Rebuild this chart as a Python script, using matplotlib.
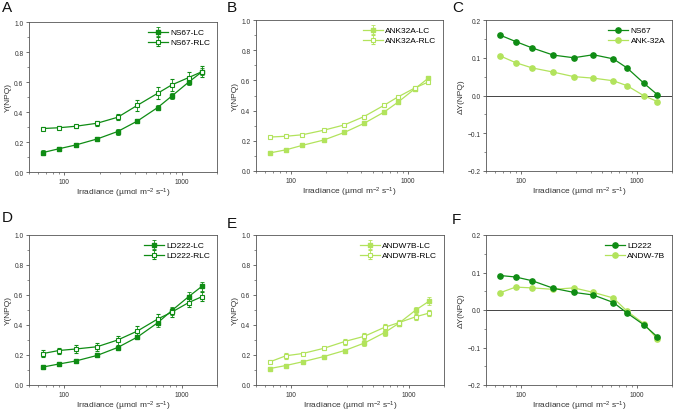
import matplotlib
matplotlib.use("Agg")
import matplotlib.pyplot as plt
import matplotlib.ticker as mtick
import numpy as np

DARK = "#0f8c14"
LIGHT = "#b2e35c"
INK = "#333333"

irradiance = [66, 90, 125, 190, 285, 420, 625, 820, 1150, 1500]

ns67_lc = [0.13, 0.155, 0.18, 0.22, 0.27, 0.34, 0.43, 0.505, 0.60, 0.67]
ns67_lc_err = [0.015, 0.015, 0.015, 0.015, 0.02, 0.015, 0.015, 0.02, 0.02, 0.025]
ns67_rlc = [0.29, 0.295, 0.305, 0.325, 0.365, 0.445, 0.525, 0.58, 0.63, 0.67]
ns67_rlc_err = [0.01, 0.01, 0.01, 0.015, 0.02, 0.035, 0.04, 0.04, 0.04, 0.035]

ank_lc = [0.12, 0.14, 0.17, 0.205, 0.255, 0.315, 0.39, 0.455, 0.545, 0.615]
ank_lc_err = [0.008, 0.008, 0.008, 0.008, 0.008, 0.01, 0.01, 0.01, 0.01, 0.012]
ank_rlc = [0.225, 0.23, 0.24, 0.27, 0.305, 0.36, 0.435, 0.49, 0.55, 0.59]
ank_rlc_err = [0.008, 0.008, 0.008, 0.008, 0.008, 0.01, 0.01, 0.01, 0.01, 0.012]

d_ns67 = [0.16, 0.143, 0.126, 0.107, 0.10, 0.108, 0.097, 0.073, 0.032, 0.002]
d_ank = [0.105, 0.087, 0.073, 0.062, 0.05, 0.046, 0.039, 0.026, -0.001, -0.016]

ld_lc = [0.12, 0.14, 0.16, 0.197, 0.25, 0.32, 0.415, 0.495, 0.59, 0.66]
ld_lc_err = [0.01, 0.01, 0.01, 0.01, 0.01, 0.015, 0.025, 0.025, 0.03, 0.03]
ld_rlc = [0.21, 0.23, 0.24, 0.255, 0.30, 0.36, 0.44, 0.485, 0.55, 0.59]
ld_rlc_err = [0.025, 0.02, 0.025, 0.025, 0.03, 0.035, 0.035, 0.03, 0.03, 0.03]

andw_lc = [0.11, 0.13, 0.155, 0.19, 0.23, 0.28, 0.35, 0.41, 0.50, 0.56]
andw_lc_err = [0.01, 0.01, 0.01, 0.01, 0.01, 0.02, 0.02, 0.015, 0.02, 0.025]
andw_rlc = [0.155, 0.195, 0.21, 0.245, 0.29, 0.325, 0.385, 0.415, 0.455, 0.48]
andw_rlc_err = [0.01, 0.02, 0.01, 0.01, 0.02, 0.02, 0.02, 0.02, 0.02, 0.02]

d_ld = [0.092, 0.088, 0.078, 0.058, 0.047, 0.04, 0.02, -0.008, -0.04, -0.072]
d_andw = [0.046, 0.061, 0.059, 0.055, 0.059, 0.047, 0.032, -0.003, -0.037, -0.078]

plt.rcParams.update({
    "font.family": "Liberation Sans",
    "mathtext.fontset": "custom",
    "mathtext.rm": "Liberation Sans",
    "mathtext.it": "Liberation Sans:italic",
    "font.size": 5,
    "axes.edgecolor": "#555555",
    "axes.linewidth": 0.6,
    "xtick.color": INK,
    "ytick.color": INK,
    "xtick.major.size": 2.5,
    "ytick.major.size": 2.5,
    "xtick.minor.size": 1.5,
    "ytick.minor.size": 1.5,
    "xtick.major.width": 0.5,
    "ytick.major.width": 0.5,
    "xtick.minor.width": 0.4,
    "ytick.minor.width": 0.4,
})

W, H = 675, 414
fig = plt.figure(figsize=(6.75, 4.14), dpi=100)


def make_axes(x0, y0, x1, y1):
    return fig.add_axes([x0 / W, 1 - y1 / H, (x1 - x0) / W, (y1 - y0) / H])


def style_axes(ax, ylim, yticks, ylabel):
    ax.set_xscale("log")
    ax.set_xlim(50, 2000)
    ax.set_ylim(*ylim)
    ax.set_yticks(yticks)
    ax.yaxis.set_minor_locator(mtick.AutoMinorLocator(2))
    ax.xaxis.set_major_locator(mtick.FixedLocator([100, 1000]))
    ax.xaxis.set_major_formatter(mtick.FixedFormatter(["100", "1000"]))
    ax.xaxis.set_minor_locator(mtick.LogLocator(base=10, subs=np.arange(2, 10)))
    ax.xaxis.set_minor_formatter(mtick.NullFormatter())
    ax.tick_params(labelsize=4.8, pad=1.5)
    ax.set_xlabel(r"Irradiance (µmol m$^{\mathrm{-2}}$ s$^{\mathrm{-1}}$)", fontsize=6,
                  color=INK, labelpad=1)
    ax.set_ylabel(ylabel, fontsize=6, color=INK, labelpad=2)


def yield_panel(box, lc, lc_err, rlc, rlc_err, name, color):
    ax = make_axes(*box)
    ax.errorbar(irradiance, lc, yerr=lc_err, color=color, marker="s", ms=3.5,
                lw=0.9, capsize=1.5, elinewidth=0.6, capthick=0.6,
                mfc=color, mec=color, label=f"{name}-LC")
    ax.errorbar(irradiance, rlc, yerr=rlc_err, color=color, marker="s", ms=3.5,
                lw=0.9, capsize=1.5, elinewidth=0.6, capthick=0.6,
                mfc="white", mec=color, mew=0.8, label=f"{name}-RLC")
    style_axes(ax, (0, 1.0), np.arange(0, 1.01, 0.2), "Y(NPQ)")
    ax.yaxis.set_major_formatter(mtick.StrMethodFormatter("{x:.1f}"))
    ax.legend(loc="upper right", frameon=False, fontsize=6,
              handlelength=2.4, handletextpad=0.3, labelspacing=0.25,
              borderaxespad=0.4)
    return ax


def delta_panel(box, a, b, la, lb):
    ax = make_axes(*box)
    ax.axhline(0, color="#444444", lw=0.7, zorder=1)
    ax.plot(irradiance, a, color=DARK, marker="o", ms=3.8, lw=0.9, label=la, zorder=3)
    ax.plot(irradiance, b, color=LIGHT, marker="o", ms=3.8, lw=0.9, label=lb, zorder=2)
    style_axes(ax, (-0.2, 0.2), [-0.2, -0.1, 0.0, 0.1, 0.2], "ΔY(NPQ)")
    ax.yaxis.set_major_formatter(mtick.StrMethodFormatter("{x:.1f}"))
    ax.legend(loc="upper right", frameon=False, fontsize=6, handlelength=2.4,
              handletextpad=0.3, labelspacing=0.25, borderaxespad=0.4)
    return ax


yield_panel((29, 23, 217, 173), ns67_lc, ns67_lc_err, ns67_rlc, ns67_rlc_err, "NS67", DARK)
yield_panel((256, 21, 443, 172), ank_lc, ank_lc_err, ank_rlc, ank_rlc_err, "ANK32A", LIGHT)
delta_panel((486, 21, 672, 172), d_ns67, d_ank, "NS67", "ANK-32A")
yield_panel((29, 236, 217, 386), ld_lc, ld_lc_err, ld_rlc, ld_rlc_err, "LD222", DARK)
yield_panel((256, 236, 444, 386), andw_lc, andw_lc_err, andw_rlc, andw_rlc_err, "ANDW7B", LIGHT)
delta_panel((486, 236, 672, 386), d_ld, d_andw, "LD222", "ANDW-7B")

for letter, x, y in [("A", 2, 1), ("B", 227, 1), ("C", 452, 1),
                     ("D", 2, 211), ("E", 227, 217), ("F", 452, 213)]:
    fig.text(x / W, 1 - y / H, letter, fontsize=11, va="top", ha="left", color="#111111")

fig.savefig("out.png", dpi=100)
